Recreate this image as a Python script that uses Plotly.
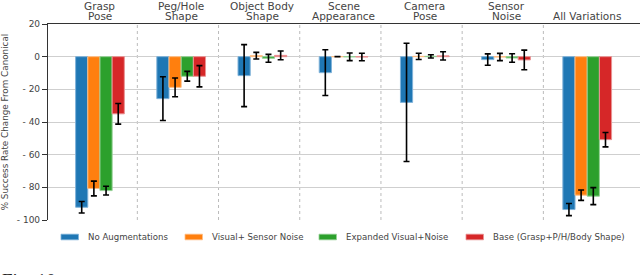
import plotly.graph_objects as go

categories = ["Grasp\nPose", "Peg/Hole\nShape", "Object Body\nShape", "Scene\nAppearance",
              "Camera\nPose", "Sensor\nNoise", "All Variations"]
series_names = ["No Augmentations", "Visual+ Sensor Noise", "Expanded Visual+Noise",
                "Base (Grasp+P/H/Body Shape)"]
colors = ["#1f77b4", "#ff7f0e", "#2ca02c", "#d62728"]
edge_colors = ["#7fb2d9", "#ffbf87", "#95d095", "#ea9394"]

no_aug = [-92.2, -25.7, -11.6, -9.8, -28.0, -1.8, -93.6]
no_aug_err = [3.5, 13.4, 19.0, 14.0, 36.2, 3.5, 3.7]
vis_noise = [-80.7, -18.8, 0.6, 0.0, 0.2, -0.2, -84.8]
vis_noise_err = [4.5, 5.7, 2.0, 0.0, 1.9, 2.2, 3.2]
exp_vis = [-82.0, -12.0, -1.0, -0.1, 0.2, -0.8, -85.4]
exp_vis_err = [2.7, 3.0, 2.4, 2.3, 1.0, 2.6, 5.2]
base = [-35.0, -12.0, 0.8, -0.2, 0.5, -2.0, -50.8]
base_err = [6.3, 6.5, 2.7, 2.3, 2.5, 6.0, 4.4]

y_ticks = [20, 0, -20, -40, -60, -80, -100]
y_tick_text = ["20", "0", "- 20", "- 40", "- 60", "- 80", "- 100"]

values = [no_aug, vis_noise, exp_vis, base]
errors = [no_aug_err, vis_noise_err, exp_vis_err, base_err]

FONT = "DejaVu Sans"
TXT = "#444444"
xs = list(range(len(categories)))

# layout geometry (pixels)
W, H = 640, 275
L, R, T, B = 48, 0, 24, 55
PW, PH = W - L - R, H - T - B


def px_x(px):
    return (px - L) / PW


def px_y(py):
    return (H - B - py) / PH


fig = go.Figure()
for name, v, e, c, ec in zip(series_names, values, errors, colors, edge_colors):
    fig.add_trace(go.Bar(
        x=xs, y=v, name=name, showlegend=False,
        marker=dict(color=c, line=dict(color=ec, width=1)),
        error_y=dict(type="data", array=e, visible=True, color="black",
                     thickness=1.6, width=3),
    ))

shapes = []
for i in range(len(categories) - 1):
    shapes.append(dict(type="line", xref="x", yref="paper", x0=i + 0.46, x1=i + 0.46,
                       y0=0, y1=1, line=dict(color="#bbbbbb", width=1, dash="dot"),
                       layer="below"))

annotations = []
for i, cat in enumerate(categories):
    lines = cat.split("\n")
    ys = [15.5] if len(lines) == 1 else [6, 16]
    for ln, yy in zip(lines, ys):
        annotations.append(dict(x=i, y=px_y(yy), xref="x", yref="paper", text=ln,
                                showarrow=False, yanchor="middle", xanchor="center",
                                font=dict(family=FONT, size=10.5, color=TXT)))

# manual legend
leg_x = [61, 185, 319, 466]
leg_y = 237
for name, c, ec, lx in zip(series_names, colors, edge_colors, leg_x):
    shapes.append(dict(type="rect", xref="paper", yref="paper",
                       x0=px_x(lx), x1=px_x(lx + 17.5), y0=px_y(leg_y + 2.8), y1=px_y(leg_y - 2.8),
                       fillcolor=c, line=dict(color=ec, width=0.8)))
    annotations.append(dict(x=px_x(lx + 25), y=px_y(leg_y), xref="paper", yref="paper",
                            text=name, showarrow=False, xanchor="left", yanchor="middle",
                            font=dict(family=FONT, size=8.6, color=TXT)))

annotations.append(dict(x=px_x(0), y=px_y(268), xref="paper",
                        yref="paper", text="Fig. 10", showarrow=False, xanchor="left",
                        yanchor="top",
                        font=dict(family="Liberation Serif", size=19, color="#222")))

fig.update_layout(
    width=W, height=H,
    margin=dict(l=L, r=R, t=T, b=B),
    paper_bgcolor="white", plot_bgcolor="white",
    barmode="group", bargap=0.40, bargroupgap=0,
    font=dict(family=FONT, size=9, color=TXT),
    showlegend=False,
    shapes=shapes,
    annotations=annotations,
    xaxis=dict(range=[-0.64, 6.65], showticklabels=False, showgrid=False,
               zeroline=False, showline=True, mirror=False, side="top",
               linecolor="#333", linewidth=1.2, ticks="", fixedrange=True),
    yaxis=dict(range=[-100, 20], tickvals=y_ticks, ticktext=y_tick_text,
               showgrid=True, gridcolor="#cfcfcf", gridwidth=1.2,
               zeroline=True, zerolinecolor="#cfcfcf", zerolinewidth=1.2,
               showline=True, linecolor="#333", linewidth=1.2,
               ticks="outside", ticklen=5, tickcolor="#333",
               tickfont=dict(family=FONT, size=9, color=TXT),
               title=dict(text="% Success Rate Change From Canonical",
                          font=dict(family=FONT, size=8.8, color=TXT), standoff=8)),
)

fig.write_html("out.html", config={"displayModeBar": False},
               post_script="document.body.style.margin='0';")
